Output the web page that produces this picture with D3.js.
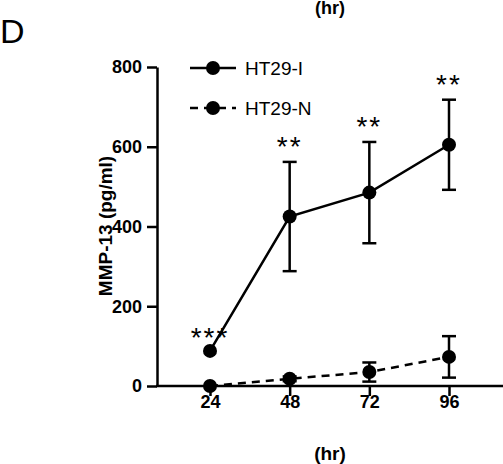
<!DOCTYPE html><html><head><meta charset="utf-8">
<script src="https://d3js.org/d3.v7.min.js"></script>
<style>body{margin:0;background:#fff}</style></head><body><svg width="503" height="464"></svg>
<script>
const hours=[24,48,72,96];
const seriesNames=["HT29-I","HT29-N"];
const meanI=[88,425,485,605], errI=[0,137,127,113];
const meanN=[0,18,35,73], errN=[0,6,24,52];
const stars=["***","**","**","**"];
const yTicks=[0,200,400,600,800];
const svg=d3.select("svg");
const x=d3.scaleLinear().domain([24,96]).range([210,449]);
const y=d3.scaleLinear().domain([0,800]).range([386,67]);
const F="Liberation Sans, Arial, sans-serif";
svg.append("text").attr("x",0).attr("y",43).attr("font-family",F).attr("font-size",34).text("D");
svg.append("text").attr("x",330).attr("y",14).attr("text-anchor","middle").attr("font-family",F).attr("font-weight","bold").attr("font-size",18).text("(hr)");
const ya=svg.append("g").attr("transform","translate(157,0)").call(d3.axisLeft(y).tickValues(yTicks).tickSize(10).tickSizeOuter(0));
ya.selectAll("text").attr("font-family",F).attr("font-weight","bold").attr("font-size",18).attr("dx",-2);
ya.selectAll("path,line").attr("stroke","#000").attr("stroke-width",2.5);
const xa=svg.append("g").attr("transform","translate(0,386)").call(d3.axisBottom(x).tickValues(hours).tickSize(10).tickSizeOuter(0));
xa.select("path").remove();
xa.selectAll("line").attr("stroke","#000").attr("stroke-width",2.5);
xa.selectAll("text").attr("font-family",F).attr("font-weight","bold").attr("font-size",18).attr("dy",9);
svg.append("line").attr("x1",156).attr("x2",503).attr("y1",386).attr("y2",386).attr("stroke","#000").attr("stroke-width",2.5);
svg.append("text").attr("transform","translate(112,226) rotate(-90)").attr("text-anchor","middle").attr("font-family",F).attr("font-weight","bold").attr("font-size",19).text("MMP-13 (pg/ml)");
svg.append("text").attr("x",330).attr("y",460).attr("text-anchor","middle").attr("font-family",F).attr("font-weight","bold").attr("font-size",19).text("(hr)");
function series(m,e,dash){
  const d=hours.map((h,i)=>({h,m:m[i],e:e[i]}));
  svg.append("path").datum(d).attr("fill","none").attr("stroke","#000").attr("stroke-width",2.5).attr("stroke-dasharray",dash)
    .attr("d",d3.line().x(p=>x(p.h)).y(p=>y(p.m)));
  d.filter(p=>p.e>0).forEach(p=>{
    const g=svg.append("g").attr("stroke","#000").attr("stroke-width",2.5);
    g.append("line").attr("x1",x(p.h)).attr("x2",x(p.h)).attr("y1",y(p.m-p.e)).attr("y2",y(p.m+p.e));
    [p.m-p.e,p.m+p.e].forEach(v=>g.append("line").attr("x1",x(p.h)-7).attr("x2",x(p.h)+7).attr("y1",y(v)).attr("y2",y(v)));
  });
  svg.selectAll(null).data(d).enter().append("circle").attr("cx",p=>x(p.h)).attr("cy",p=>y(p.m)).attr("r",7).attr("fill","#000");
}
series(meanI,errI,null);
series(meanN,errN,"8,6");
stars.forEach((s,i)=>svg.append("text").attr("x",x(hours[i])).attr("y",y(meanI[i]+errI[i])+(i==0?-4:-6)).attr("text-anchor","middle").attr("font-family",F).attr("font-size",28).attr("letter-spacing",2).text(s));
seriesNames.forEach((n,i)=>{
  const yy=68+i*40;
  svg.append("line").attr("x1",190).attr("x2",236).attr("y1",yy).attr("y2",yy).attr("stroke","#000").attr("stroke-width",2.5).attr("stroke-dasharray",i?"8,6":null);
  svg.append("circle").attr("cx",213).attr("cy",yy).attr("r",7);
  svg.append("text").attr("x",245).attr("y",yy+7).attr("font-family",F).attr("font-size",19).text(n);
});
</script></body></html>
